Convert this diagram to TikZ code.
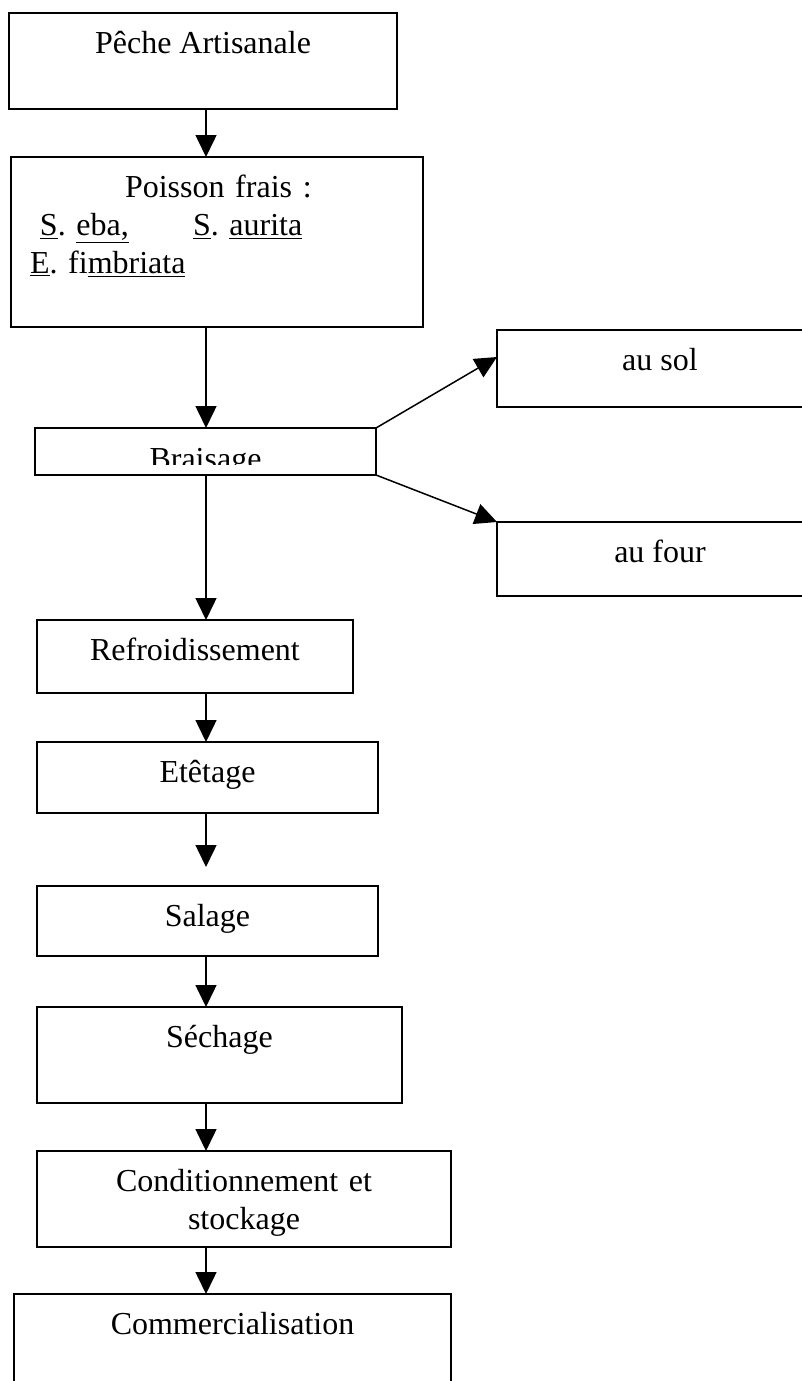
\documentclass[tikz,border=0pt]{standalone}
\usepackage{fontspec}
\setmainfont{Liberation Serif}
\usetikzlibrary{arrows.meta,positioning}
\newcommand\boxfont{\fontsize{16}{19}\selectfont\frenchspacing}
\tikzset{box/.style 2 args={ % #1 = width, #2 = depth below the first baseline
            draw, line width=0.9pt,
            minimum width=#1,
            inner xsep=0pt, inner ysep=0pt, outer sep=0pt,
            text height=20pt, text depth=#2, % text sits at the top of the box
            align=center,
            font=\boxfont},
        every edge/.style={ % Sets the properties for each arrow
            draw,
            line width=0.75pt,
            -{Triangle[length=11pt,width=10.5pt]}}
        }

\begin{document}
\begin{tikzpicture}
    \useasboundingbox (0,0) rectangle (401pt,-690.5pt);
    \coordinate (stem) at (103pt,0); % x of the main column of arrows

    \node[box={194pt}{28pt}, anchor=north] (peche) at (101.5pt,-6.5pt) {Pêche Artisanale};
    \node[box={206pt}{65pt}, text width=187pt, inner xsep=9.5pt, align=left] (poisson) [below=24pt of peche, xshift=7pt]
        {\hspace*{47.5pt}Poisson frais :\\
         \hspace*{5pt}\makebox[76.5pt][l]{\underline{S}. \underline{eba,}}\underline{S}. \underline{aurita}\\
         \underline{E}. fi\underline{mbriata}};
    \node[box={170.5pt}{3.5pt},
        path picture={
            \clip (path picture bounding box.north west) rectangle ([yshift=-18pt]path picture bounding box.north east);
            \node[anchor=base, font=\boxfont] at ([yshift=-20.75pt]path picture bounding box.north) {Braisage};
        }] (braisage) [below=50.5pt of poisson, xshift=-5.75pt] {};
    \node[box={163pt}{18.5pt}] (ausol) [above right=10.5pt and 60.5pt of braisage.north east] {au sol};
    \node[box={163pt}{17pt}] (aufour) [below right=23.5pt and 60.5pt of braisage.south east] {au four};
    \node[box={158pt}{16.5pt}] (refroid) [below=72.5pt of braisage, xshift=-5.25pt] {Refroidissement};
    \node[box={170.5pt}{15.5pt}] (etetage) [below=24.5pt of refroid, xshift=6.25pt] {Etêtage};
    \node[box={170.5pt}{15pt}] (salage) [below=36.5pt of etetage] {Salage};
    \node[box={182.5pt}{28pt}] (sechage) [below=25.5pt of salage, xshift=6pt] {Séchage};
    \node[box={207pt}{28pt}, text width=207pt] (cond) [below=24pt of sechage, xshift=12.25pt] {Conditionnement et\\stockage};
    \node[box={218.5pt}{30pt}] (comm) [below=23.5pt of cond, xshift=-5.75pt] {Commercialisation};

    \path
        (peche.south -| stem) edge (poisson.north -| stem)
        (poisson.south -| stem) edge (braisage.north -| stem)
        (braisage.north east) edge ([yshift=-13.5pt]ausol.north west)
        (braisage.south east) edge (aufour.north west)
        (braisage.south -| stem) edge (refroid.north -| stem)
        (refroid.south -| stem) edge (etetage.north -| stem)
        (etetage.south -| stem) edge [shorten >=9.5pt] (salage.north -| stem)
        (salage.south -| stem) edge (sechage.north -| stem)
        (sechage.south -| stem) edge (cond.north -| stem)
        (cond.south -| stem) edge (comm.north -| stem);
\end{tikzpicture}
\end{document}
